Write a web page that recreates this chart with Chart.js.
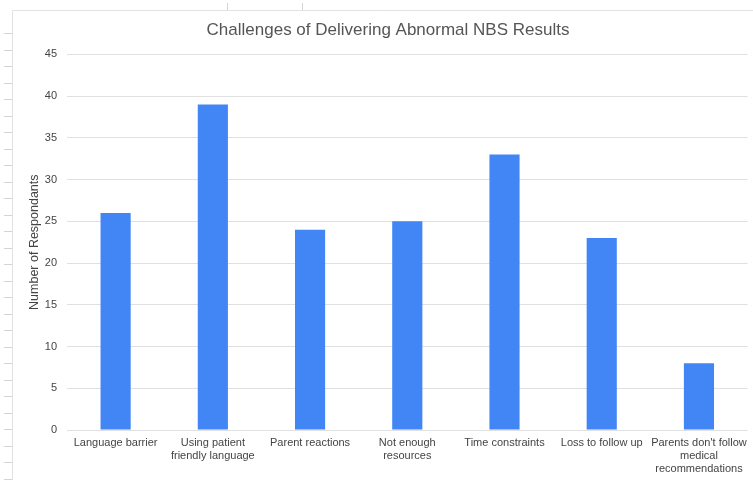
<!DOCTYPE html>
<html>
<head>
<meta charset="utf-8">
<script src="https://cdn.jsdelivr.net/npm/chart.js@4/dist/chart.umd.min.js"></script>
<style>
  html, body { margin: 0; padding: 0; background: #fff; }
  #wrap { width: 753px; height: 480px; position: relative; }
</style>
</head>
<body>
<div id="wrap"><canvas id="c"></canvas></div>
<script>
const categories = [
  'Language barrier',
  ['Using patient', 'friendly language'],
  'Parent reactions',
  ['Not enough', 'resources'],
  'Time constraints',
  'Loss to follow up',
  ["Parents don't follow", 'medical', 'recommendations']
];
const respondents = [26, 39, 24, 25, 33, 23, 8];
const yTicks = [0, 5, 10, 15, 20, 25, 30, 35, 40, 45];

// Sheet frame: top and left borders plus row/column ticks in the margin
const sheetFrame = {
  id: 'sheetFrame',
  beforeDraw(chart) {
    const ctx = chart.ctx;
    ctx.save();
    ctx.strokeStyle = '#e2e2e2';
    ctx.lineWidth = 1;
    ctx.beginPath();
    ctx.moveTo(12.5, 10.5); ctx.lineTo(753, 10.5);
    ctx.moveTo(12.5, 10.5); ctx.lineTo(12.5, 480);
    ctx.stroke();
    ctx.strokeStyle = '#d4d4d4';
    ctx.beginPath();
    for (let y = 33; y < 480; y += 16.5) {
      ctx.moveTo(4, Math.round(y) + 0.5);
      ctx.lineTo(12, Math.round(y) + 0.5);
    }
    [227, 302].forEach(x => {
      ctx.moveTo(x + 0.5, 3); ctx.lineTo(x + 0.5, 10);
    });
    ctx.stroke();
    ctx.restore();
  }
};

new Chart(document.getElementById('c'), {
  type: 'bar',
  data: {
    labels: categories,
    datasets: [{
      label: 'Number of Respondants',
      data: respondents,
      backgroundColor: '#4285f4',
      borderWidth: 0,
      categoryPercentage: 1,
      barPercentage: 0.31
    }]
  },
  plugins: [sheetFrame],
  options: {
    responsive: true,
    maintainAspectRatio: false,
    animation: false,
    devicePixelRatio: 1,
    layout: { padding: { left: 26, right: 3, top: 10, bottom: 0 } },
    plugins: {
      legend: { display: false },
      tooltip: { enabled: false },
      title: {
        display: true,
        text: 'Challenges of Delivering Abnormal NBS Results',
        color: '#555',
        font: { family: 'Liberation Sans', size: 17, weight: 'normal' },
        padding: { top: 10, bottom: 14 }
      }
    },
    scales: {
      x: {
        grid: { display: false, drawTicks: false },
        border: { display: false },
        ticks: {
          color: '#444',
          font: { family: 'Liberation Sans', size: 11 },
          padding: 6,
          maxRotation: 0,
          autoSkip: false
        },
        afterFit(scale) { scale.height = 50; }
      },
      y: {
        min: 0,
        max: 45,
        afterBuildTicks(scale) { scale.ticks = yTicks.map(v => ({ value: v })); },
        grid: { color: '#e0e0e0', drawTicks: false, lineWidth: 1 },
        border: { display: false },
        ticks: {
          color: '#444',
          font: { family: 'Liberation Sans', size: 11 },
          padding: 10
        },
        title: {
          display: true,
          text: 'Number of Respondants',
          color: '#444',
          font: { family: 'Liberation Sans', size: 12.5 },
          padding: { top: 1, bottom: 0 }
        },
        afterFit(scale) { scale.width = 41; }
      }
    }
  }
});
</script>
</body>
</html>
